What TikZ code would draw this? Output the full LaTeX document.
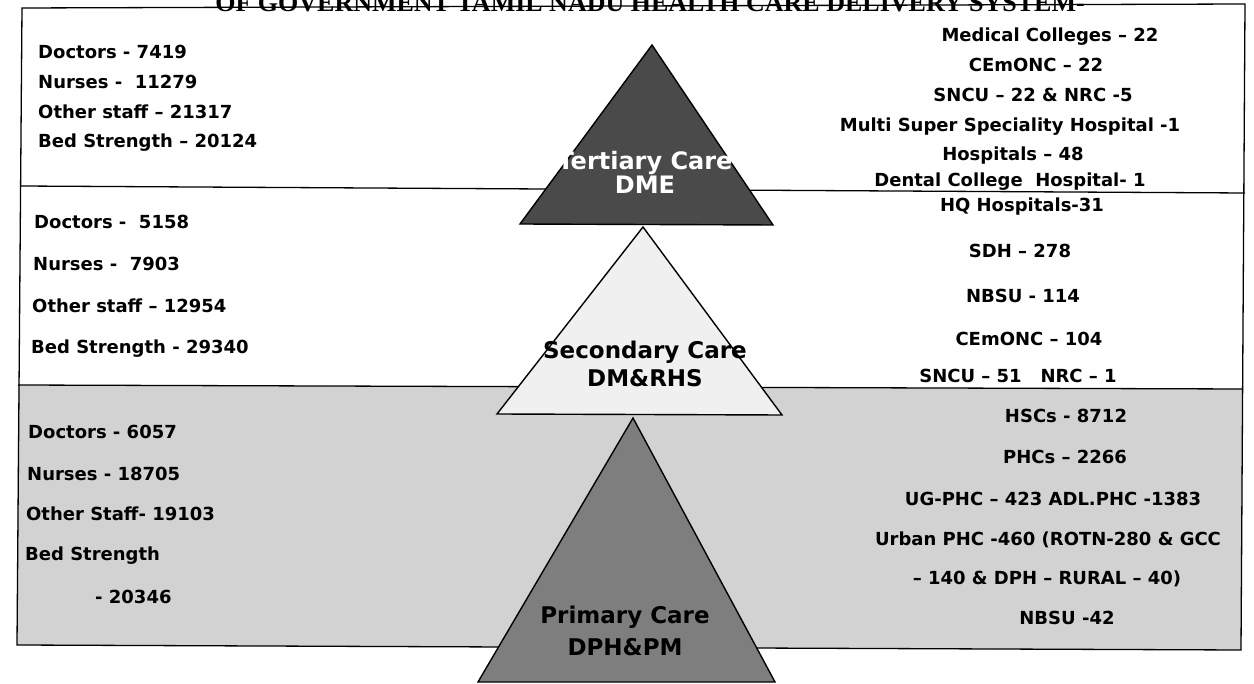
\documentclass[tikz,border=0pt]{standalone}
\usepackage{fontspec}
\setmainfont{DejaVu Sans}
\newfontfamily\titlefont{Liberation Serif}
\definecolor{bandgray}{HTML}{D2D2D2}
\definecolor{topdark}{HTML}{4A4A4A}
\definecolor{middlelight}{HTML}{F0F0F0}
\definecolor{botdark}{HTML}{7E7E7E}
\begin{document}
\begin{tikzpicture}[x=1pt,y=-1pt,
  lbl/.style={anchor=base west, font=\bfseries\fontsize{18}{18}\selectfont, inner sep=0pt},
  rtx/.style={anchor=base, font=\bfseries\fontsize{18}{18}\selectfont, inner sep=0pt},
  tri/.style={draw=black, line width=1.4pt, line join=miter},
  frame/.style={draw=black, line width=1.3pt},
  carelbl/.style={align=center, inner sep=0pt}]
\useasboundingbox (0,0) rectangle (1254,684);
% title (cut off at top)
\begin{scope}
\clip (0,0) rectangle (1254,684);
\node[anchor=base east, font=\titlefont\bfseries\fontsize{26}{26}\selectfont, inner sep=0pt] (title) at (1085,12) {OF GOVERNMENT TAMIL NADU HEALTH CARE DELIVERY SYSTEM-};
\end{scope}
% bands
\fill[bandgray] (18,385) -- (1243,389) -- (1241,650) -- (17,645) -- cycle;
\draw[frame] (22,8) -- (1245,4) -- (1241,650) -- (17,645) -- cycle;
\draw[frame] (20,186) -- (1245,193);
\draw[frame] (18,385) -- (1243,389);
% triangles
\coordinate (ta) at (652,45); \coordinate (tl) at (520,224); \coordinate (tr) at (773,225);
\coordinate (ma) at (643,227); \coordinate (ml) at (497,414); \coordinate (mr) at (782,415);
\coordinate (ba) at (633,418); \coordinate (bl) at (478,682); \coordinate (br) at (775,682);
\filldraw[tri, fill=topdark] (ta) -- (tl) -- (tr) -- cycle;
\filldraw[tri, fill=middlelight] (ma) -- (ml) -- (mr) -- cycle;
\filldraw[tri, fill=botdark] (ba) -- (bl) -- (br) -- cycle;
\node[carelbl, text=white, font=\bfseries\fontsize{24}{24}\selectfont] (tert) at (645,172) {Tertiary Care\\DME};
\node[carelbl, font=\bfseries\fontsize{23}{28}\selectfont] (sec) at (645,364) {Secondary Care\\DM\&RHS};
\node[carelbl, font=\bfseries\fontsize{23}{32}\selectfont] (prim) at (625,631) {Primary Care\\DPH\&PM};
% left top
\node[lbl] (l1) at (38,59) {Doctors - 7419};
\node[lbl] (l2) at (38,89) {Nurses -\ \ 11279};
\node[lbl] (l3) at (38,119) {Other staff – 21317};
\node[lbl] (l4) at (38,148) {Bed Strength – 20124};
% left middle
\node[lbl] (m1) at (34,229) {Doctors -\ \ 5158};
\node[lbl] (m2) at (33,271) {Nurses -\ \ 7903};
\node[lbl] (m3) at (32,313) {Other staff – 12954};
\node[lbl] (m4) at (31,354) {Bed Strength - 29340};
% left bottom
\node[lbl] (b1) at (28,439) {Doctors - 6057};
\node[lbl] (b2) at (27,481) {Nurses - 18705};
\node[lbl] (b3) at (26,521) {Other Staff- 19103};
\node[lbl] (b4) at (25,561) {Bed Strength};
\node[lbl] (b5) at (95,603) {- 20346};
% right top
\node[rtx] (r1) at (1050,42) {Medical Colleges – 22};
\node[rtx] (r2) at (1036,72) {CEmONC – 22};
\node[rtx] (r3) at (1033,102) {SNCU – 22 \& NRC -5};
\node[rtx] (r4) at (1010,132) {Multi Super Speciality Hospital -1};
\node[rtx] (r5) at (1013,161) {Hospitals – 48};
\node[rtx] (r6) at (1010,187) {Dental College\ \ Hospital- 1};
% right middle
\node[rtx] (s1) at (1022,212) {HQ Hospitals-31};
\node[rtx] (s2) at (1020,258) {SDH – 278};
\node[rtx] (s3) at (1023,303) {NBSU - 114};
\node[rtx] (s4) at (1029,346) {CEmONC – 104};
\node[rtx] (s5) at (1018,383) {SNCU – 51\ \ \ NRC – 1};
% right bottom
\node[rtx] (p1) at (1066,423) {HSCs - 8712};
\node[rtx] (p2) at (1065,464) {PHCs – 2266};
\node[rtx] (p3) at (1053,506) {UG-PHC – 423 ADL.PHC -1383};
\node[rtx] (p4) at (1048,546) {Urban PHC -460 (ROTN-280 \& GCC};
\node[rtx] (p5) at (1047,584) {– 140 \& DPH – RURAL – 40)};
\node[rtx] (p6) at (1067,624) {NBSU -42};
\end{tikzpicture}
\end{document}
